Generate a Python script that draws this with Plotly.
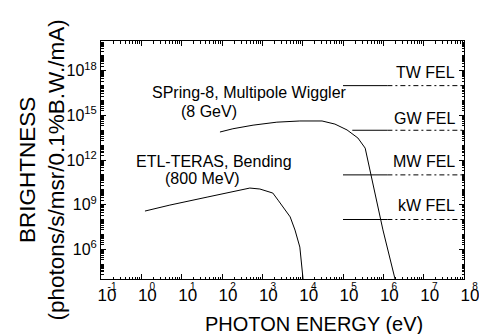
import plotly.graph_objects as go

# ---------------- data ----------------
# SPring-8, Multipole Wiggler (8 GeV)
wig_energy = [89, 186, 589, 2291, 8511, 30200, 63100, 125900, 234400, 354800, 977000, 1950000]
wig_bright = [7.6e13, 1.26e14, 2.2e14, 3.5e14, 4.2e14, 4.2e14, 2.6e14, 1.05e14, 3.0e13, 6.3e12, 2.0e7, 1.0e4]

# ETL-TERAS, Bending (800 MeV)
etl_energy = [1.23, 5.1, 42.7, 234, 490, 870, 1047, 1820, 2455, 4900, 6457, 8511, 10230]
etl_bright = [3.7e8, 9.3e8, 3.2e9, 8.3e9, 1.3e10, 1.12e10, 9.5e9, 6.0e9, 2.0e9, 1.5e8, 1.95e7, 1.4e6, 1.0e4]

# FEL levels
fel_names = ["TW FEL", "GW FEL", "MW FEL", "kW FEL"]
fel_level = [1e17, 1e14, 1e11, 1e8]
fel_solid_start = [1e5, 1.7e5, 1e5, 1e5]
fel_solid_end = [1.26e6, 1.26e6, 1.26e6, 1.26e6]
fel_dash_end = [1e8, 1e8, 1e8, 1e8]

# tick labels
x_tick_vals = [1e-1, 1e0, 1e1, 1e2, 1e3, 1e4, 1e5, 1e6, 1e7, 1e8]
x_tick_base = ["10"] * 10
x_tick_exp = ["-1", "0", "1", "2", "3", "4", "5", "6", "7", "8"]
y_labelled = [6, 9, 12, 15, 18]
y_tick_vals = [1e6, 1e9, 1e12, 1e15, 1e18]
y_tick_text = ["10<sup>6</sup>", "10<sup>9</sup>", "10<sup>12</sup>", "10<sup>15</sup>", "10<sup>18</sup>"]

FONT = "Liberation Sans, Arial, Helvetica, sans-serif"

# layout geometry (pixels)
W, H = 479, 334
ML, MR, MT, MB = 101, 0, 41, 55
PLOT_W = 363                      # width of the framed plot area
AREA_W = W - ML - MR              # width available to the label axes
x_dom_end = PLOT_W / AREA_W
x_lo, x_hi = -1, 8
label_hi = x_lo + (x_hi - x_lo) * AREA_W / PLOT_W   # same scale, wider extent

fig = go.Figure()
fig.add_trace(go.Scatter(x=wig_energy, y=wig_bright, mode="lines",
                         line=dict(color="black", width=1), showlegend=False))
fig.add_trace(go.Scatter(x=etl_energy, y=etl_bright, mode="lines",
                         line=dict(color="black", width=1), showlegend=False))
for i in range(len(fel_names)):
    fig.add_trace(go.Scatter(x=[fel_solid_start[i], fel_solid_end[i]], y=[fel_level[i]] * 2,
                             mode="lines", line=dict(color="black", width=1), showlegend=False))
    fig.add_trace(go.Scatter(x=[fel_solid_end[i], fel_dash_end[i]], y=[fel_level[i]] * 2,
                             mode="lines", line=dict(color="black", width=1, dash="5px,3px,2px,3px"),
                             showlegend=False))
# helper traces so the label-only axes are drawn
for ax_name in ["x2", "x3"]:
    fig.add_trace(go.Scatter(x=x_tick_vals, y=[None] * len(x_tick_vals), xaxis=ax_name,
                             mode="lines", showlegend=False, hoverinfo="skip"))

minor_x = [m * 10.0 ** k for k in range(-1, 8) for m in range(2, 10)]
minor_y = [m * 10.0 ** k for k in range(4, 20) for m in range(1, 10)
           if not (m == 1 and k in y_labelled)]

label_axis = dict(type="log", range=[x_lo, label_hi], domain=[0, 1], anchor="y", side="bottom",
                  showline=False, ticks="", tickmode="array", tickvals=x_tick_vals,
                  ticklabeloverflow="allow", fixedrange=True,
                  showgrid=False, zeroline=False, automargin=False)

fig.update_layout(
    template="none",
    width=W, height=H,
    margin=dict(l=ML, r=MR, t=MT, b=MB, autoexpand=False),
    paper_bgcolor="white", plot_bgcolor="rgba(0,0,0,0)",
    font=dict(family=FONT, color="black"),
    showlegend=False,
    xaxis=dict(type="log", range=[x_lo, x_hi], domain=[0, x_dom_end],
               showline=True, linecolor="black", linewidth=1,
               mirror="ticks", ticks="inside", ticklen=5, tickwidth=1, tickcolor="black",
               tickmode="array", tickvals=x_tick_vals, showticklabels=False,
               showgrid=False, zeroline=False, automargin=False,
               minor=dict(ticks="inside", ticklen=2.5, tickwidth=1, tickcolor="black",
                          tickmode="array", tickvals=minor_x, showgrid=False)),
    xaxis2=dict(label_axis, ticktext=x_tick_base, tickfont=dict(size=17, family=FONT),
                ticklabelstandoff=4, ticklabelshift=6),
    xaxis3=dict(label_axis, ticktext=x_tick_exp, tickfont=dict(size=10, family=FONT),
                ticklabelstandoff=0, ticklabelshift=11),
    yaxis=dict(type="log", range=[4, 20], anchor="x", showline=True, linecolor="black", linewidth=1,
               mirror="ticks", ticks="inside", ticklen=5, tickwidth=1, tickcolor="black",
               tickmode="array", tickvals=y_tick_vals, ticktext=y_tick_text,
               tickfont=dict(size=16, family=FONT),
               showgrid=False, zeroline=False, automargin=False,
               minor=dict(ticks="inside", ticklen=2.5, tickwidth=1, tickcolor="black",
                          tickmode="array", tickvals=minor_y, showgrid=False)),
)

# curve and FEL labels
ann_font = dict(size=16, family=FONT, color="black")
fig.add_annotation(x=0.215, y=16.57, xref="x", yref="y", text="SPring-8, Multipole Wiggler",
                   showarrow=False, xanchor="left", yanchor="middle", font=ann_font)
fig.add_annotation(x=0.934, y=15.29, xref="x", yref="y", text="(8 GeV)",
                   showarrow=False, xanchor="left", yanchor="middle", font=ann_font)
fig.add_annotation(x=-0.18, y=11.87, xref="x", yref="y", text="ETL-TERAS, Bending",
                   showarrow=False, xanchor="left", yanchor="middle", font=ann_font)
fig.add_annotation(x=0.54, y=10.79, xref="x", yref="y", text="(800 MeV)",
                   showarrow=False, xanchor="left", yanchor="middle", font=ann_font)
fel_label_y = [17.85, 14.82, 11.93, 8.97]
for name, ly in zip(fel_names, fel_label_y):
    fig.add_annotation(x=7.83, y=ly, xref="x", yref="y", text=name, showarrow=False,
                       xanchor="right", yanchor="middle", font=ann_font)

# axis titles (paper coordinates relative to the full label area)
fig.add_annotation(x=(314 - ML) / AREA_W, y=-0.19, xref="paper", yref="paper",
                   text="PHOTON ENERGY (eV)",
                   showarrow=False, xanchor="center", yanchor="middle",
                   font=dict(size=20, family=FONT, color="black"))
fig.add_annotation(x=(42 - ML) / AREA_W, y=0.456, xref="paper", yref="paper",
                   text="BRIGHTNESS<br>(photons/s/msr/0.1%B.W./mA)", textangle=-90,
                   showarrow=False, xanchor="center", yanchor="middle",
                   font=dict(size=22.5, family=FONT, color="black"))

fig.write_html("out.html", config={"displayModeBar": False},
               post_script="document.body.style.margin='0';document.body.style.overflow='hidden';")
